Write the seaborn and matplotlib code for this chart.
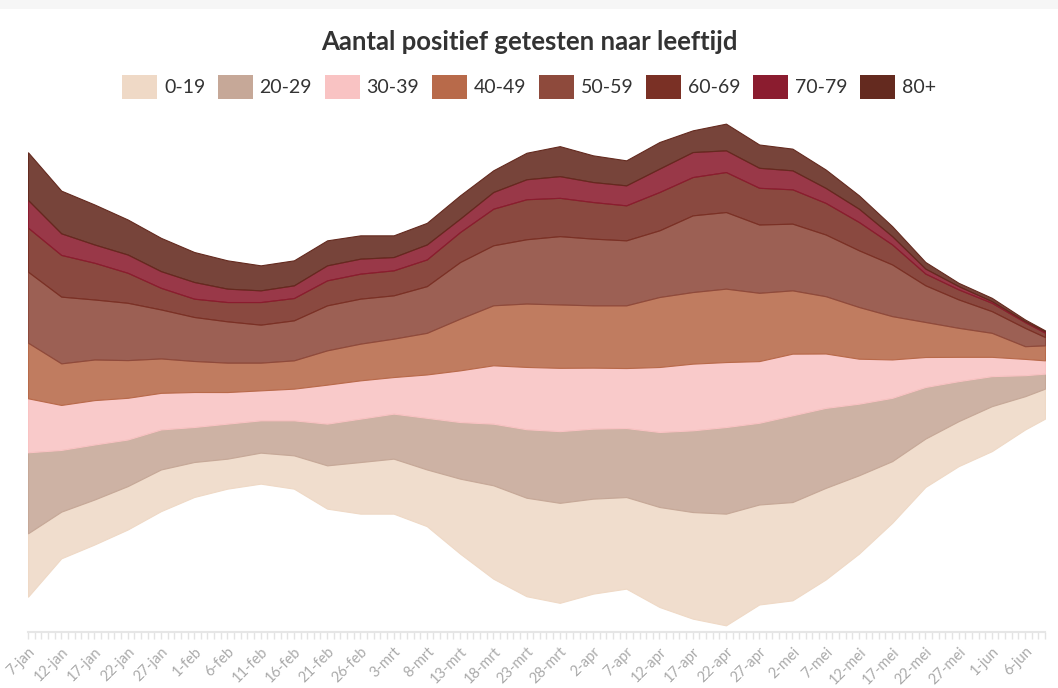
import matplotlib
matplotlib.use("Agg")
import matplotlib.pyplot as plt
import matplotlib.dates as mdates
from matplotlib.patches import Patch, Rectangle
from matplotlib.colors import to_rgba
import pandas as pd
import seaborn as sns

# ---- data (sampled every 5 days; relative stream thickness) ----
dates = ["2021-01-07", "2021-01-12", "2021-01-17", "2021-01-22", "2021-01-27",
         "2021-02-01", "2021-02-06", "2021-02-11", "2021-02-16", "2021-02-21",
         "2021-02-26", "2021-03-03", "2021-03-08", "2021-03-13", "2021-03-18",
         "2021-03-23", "2021-03-28", "2021-04-02", "2021-04-07", "2021-04-12",
         "2021-04-17", "2021-04-22", "2021-04-27", "2021-05-02", "2021-05-07",
         "2021-05-12", "2021-05-17", "2021-05-22", "2021-05-27", "2021-06-01",
         "2021-06-06", "2021-06-09"]

age_0_19 = [634, 467, 450, 434, 417, 350, 300, 310, 333, 433, 516, 550, 567, 750, 934, 985,
            1000, 950, 916, 1000, 1066, 1117, 1000, 983, 916, 784, 617, 484, 450, 450, 333, 300]
age_20_29 = [810, 617, 550, 466, 400, 350, 350, 323, 350, 417, 434, 450, 516, 566, 616, 685,
             717, 700, 690, 750, 817, 866, 817, 867, 800, 716, 633, 516, 400, 300, 210, 150]
age_30_39 = [540, 450, 444, 417, 366, 350, 316, 300, 317, 390, 383, 366, 434, 517, 584, 623,
             633, 610, 600, 650, 667, 650, 617, 617, 544, 450, 384, 300, 243, 193, 163, 133]
age_40_49 = [556, 416, 406, 377, 344, 310, 294, 277, 283, 343, 367, 384, 416, 517, 600, 634,
             634, 623, 627, 700, 716, 734, 683, 633, 573, 517, 433, 350, 290, 240, 127, 150]
age_50_59 = [710, 667, 600, 573, 490, 440, 413, 380, 400, 450, 450, 433, 467, 566, 600, 643,
             683, 667, 650, 667, 767, 766, 683, 667, 617, 567, 517, 367, 284, 217, 183, 83]
age_60_69 = [440, 417, 367, 300, 216, 183, 193, 226, 223, 250, 250, 250, 267, 300, 366, 400,
             383, 366, 350, 383, 383, 400, 367, 343, 316, 283, 200, 117, 100, 83, 57, 44]
age_70_79 = [277, 216, 183, 183, 167, 167, 134, 117, 127, 150, 150, 133, 150, 134, 167, 200,
             217, 200, 200, 234, 250, 217, 200, 190, 150, 133, 83, 50, 33, 17, 10, 13]
age_80p = [477, 427, 400, 350, 333, 300, 283, 250, 250, 250, 233, 217, 216, 233, 217, 265,
           300, 267, 250, 266, 217, 267, 233, 217, 184, 134, 100, 66, 33, 33, 17, 10]

age_groups = ["0-19", "20-29", "30-39", "40-49", "50-59", "60-69", "70-79", "80+"]
month_names = ["jan", "feb", "mrt", "apr", "mei", "jun", "jul", "aug", "sep", "okt", "nov", "dec"]
title = "Aantal positief getesten naar leeftijd"

colors = ["#efd9c6", "#c6a898", "#f9c3c3", "#b86a4a", "#8e4a3c", "#7a3025", "#8b1c2f", "#642a1f"]

# ---- styling ----
sns.set_theme(style="white")
plt.rcParams["font.family"] = ["Lato", "DejaVu Sans"]
palette = sns.color_palette(colors)

fig = plt.figure(figsize=(10.58, 6.88), dpi=100)
fig.patches.append(Rectangle((0, 1 - 9 / 688), 1, 9 / 688, transform=fig.transFigure,
                             facecolor="#f6f6f6", edgecolor="none", zorder=0))

ax = fig.add_axes([28 / 1058, 56 / 688, (1045 - 28) / 1058, (632 - 110) / 688])

x = pd.to_datetime(dates)
series = [age_0_19, age_20_29, age_30_39, age_40_49, age_50_59, age_60_69, age_70_79, age_80p]
polys = ax.stackplot(x, *series, baseline="sym")
for poly, c in zip(polys, palette):
    poly.set_facecolor(to_rgba(c, 0.88))
    poly.set_edgecolor(to_rgba(c, 1.0))
    poly.set_linewidth(0.8)

ax.set_xlim(x[0], x[-1])
ax.set_ylim(-2575, 2645)

for s in ["top", "left", "right"]:
    ax.spines[s].set_visible(False)
ax.spines["bottom"].set_color("#e6e6e6")
ax.spines["bottom"].set_linewidth(1.5)
ax.set_yticks([])

major = pd.date_range(dates[0], "2021-06-06", freq="5D")
ax.set_xticks(major)
ax.set_xticklabels([f"{d.day}-{month_names[d.month - 1]}" for d in major],
                   rotation=45, ha="right", rotation_mode="anchor",
                   color="#aaaaaa", fontsize=10.5)
ax.xaxis.set_minor_locator(mdates.DayLocator())
ax.tick_params(axis="x", which="both", direction="out", length=5, width=1,
               color="#e3e3e3", bottom=True, pad=4)
ax.set_xlabel("")
ax.set_ylabel("")

fig.text(0.5, 1 - 42 / 688, title, ha="center", va="center",
         fontsize=18.5, fontweight="bold", color="#333333")

handles = [Patch(facecolor=c, edgecolor="none") for c in palette]
fig.legend(handles, age_groups, loc="center", bbox_to_anchor=(0.5, 1 - 87 / 688),
           ncol=8, frameon=False, fontsize=14, handlelength=1.8, handleheight=1.45,
           handletextpad=0.35, columnspacing=0.65, labelcolor="#333333")

fig.savefig("out.png", dpi=100)
